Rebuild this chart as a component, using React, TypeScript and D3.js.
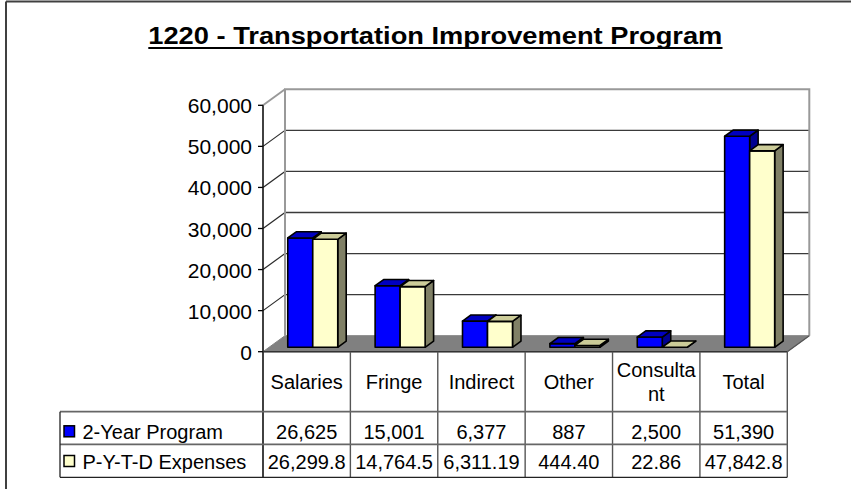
import React from "react";
import * as d3 from "d3";

const categories = ["Salaries", "Fringe", "Indirect", "Other", "Consultant", "Total"];
const categoryLines = [["Salaries"], ["Fringe"], ["Indirect"], ["Other"], ["Consulta", "nt"], ["Total"]];
const seriesNames = ["2-Year Program", "P-Y-T-D Expenses"];
const programValues = [26625, 15001, 6377, 887, 2500, 51390];
const expenseValues = [26299.8, 14764.5, 6311.19, 444.4, 22.86, 47842.8];
const programLabels = ["26,625", "15,001", "6,377", "887", "2,500", "51,390"];
const expenseLabels = ["26,299.8", "14,764.5", "6,311.19", "444.40", "22.86", "47,842.8"];
const yTicks = [0, 10000, 20000, 30000, 40000, 50000, 60000];

const W = 851;
const H = 492;
const FONT = "'Liberation Sans', Arial, sans-serif";

const frontLeft = 263;
const frontRight = 787.3;
const frontBottom = 351.7;
const frontTop = 105.3;
const DX = 22;
const DY = -16;

const seriesStyle = [
  { front: "#0000FF", top: "#0000C0", side: "#000090" },
  { front: "#FFFFCC", top: "#CCCC99", side: "#808066" },
];

export default function App() {
  const y = d3.scaleLinear().domain([0, 60000]).range([frontBottom, frontTop]);
  const x = d3.scaleBand<string>().domain(categories).range([frontLeft, frontRight]).padding(0);
  const bw = x.bandwidth();

  // bar depth placement
  const barDepthStart = 0.275;
  const barDepth = 0.385;
  const bdx = DX * barDepthStart;
  const bdy = DY * barDepthStart;
  const tdx = DX * barDepth;
  const tdy = DY * barDepth;
  const barW = 25;
  const gap = (bw - 2 * barW) / 2;

  const backLeft = frontLeft + DX;
  const backRight = frontRight + DX;

  const rowTop = frontBottom;
  const row1 = 411.7;
  const row2 = 444.3;
  const row3 = 477.3;
  const legendLeft = 60;

  const bars: JSX.Element[] = [];
  categories.forEach((c, i) => {
    [programValues[i], expenseValues[i]].forEach((v, s) => {
      const st = seriesStyle[s];
      const x0 = (x(c) as number) + bdx + gap + s * barW;
      const x1 = x0 + barW;
      const yb = y(0) + bdy;
      const yt = y(v) + bdy;
      const front = `M${x0},${yb}L${x1},${yb}L${x1},${yt}L${x0},${yt}Z`;
      const top = `M${x0},${yt}L${x1},${yt}L${x1 + tdx},${yt + tdy}L${x0 + tdx},${yt + tdy}Z`;
      const side = `M${x1},${yb}L${x1 + tdx},${yb + tdy}L${x1 + tdx},${yt + tdy}L${x1},${yt}Z`;
      bars.push(
        <g key={`${c}-${s}`} stroke="#000" strokeWidth={1.6} strokeLinejoin="round">
          <path d={side} fill={st.side} />
          <path d={front} fill={st.front} />
          <path d={top} fill={st.top} />
        </g>
      );
    });
  });

  return (
    <svg
      width={W}
      height={H}
      style={{ position: "absolute", left: 0, top: 0, background: "#fff" }}
      fontFamily={FONT}
    >
      <rect x={0} y={0} width={W} height={H} fill="#fff" />
      {/* outer frame */}
      <line x1={6} y1={1.5} x2={W} y2={1.5} stroke="#404040" strokeWidth={2} />
      <line x1={6} y1={1.5} x2={6} y2={489} stroke="#404040" strokeWidth={2} />

      {/* title */}
      <text
        x={148.3}
        y={44}
        fontSize={24}
        fontWeight="bold"
        textLength={574}
        lengthAdjust="spacingAndGlyphs"
        fill="#000"
      >
        1220 - Transportation Improvement Program
      </text>
      <line x1={148.3} x2={722.5} y1={48} y2={48} stroke="#000" strokeWidth={2.2} />

      {/* floor */}
      <path
        d={`M${frontLeft},${frontBottom}L${frontRight},${frontBottom}L${backRight},${frontBottom + DY}L${backLeft},${frontBottom + DY}Z`}
        fill="#808080"
        stroke="#808080"
        strokeWidth={1}
      />

      {/* gridlines on back wall and left wall */}
      {yTicks.map((t) => (
        <g key={t}>
          {t > 0 && t < 60000 && (
            <line x1={backLeft} x2={backRight} y1={y(t) + DY} y2={y(t) + DY} stroke="#3a3a3a" strokeWidth={1.3} />
          )}
          {t > 0 && (
            <line
              x1={frontLeft}
              y1={y(t)}
              x2={backLeft}
              y2={y(t) + DY}
              stroke={t === 60000 ? "#999" : "#2a2a2a"}
              strokeWidth={t === 60000 ? 2 : 1.2}
            />
          )}
          <line x1={frontLeft - 5} x2={frontLeft} y1={y(t)} y2={y(t)} stroke="#000" strokeWidth={1.3} />
          <text x={252} y={y(t) + 8} fontSize={21} textAnchor="end" fill="#000">
            {d3.format(",")(t)}
          </text>
        </g>
      ))}

      {/* back wall borders */}
      <path
        d={`M${backLeft},${frontBottom + DY}L${backLeft},${y(60000) + DY}L${backRight},${y(60000) + DY}L${backRight},${frontBottom + DY}`}
        fill="none"
        stroke="#999"
        strokeWidth={2}
      />

      {/* bars */}
      {bars}

      {/* front axis */}
      <line x1={frontLeft} x2={frontLeft} y1={frontTop} y2={row3} stroke="#111" strokeWidth={1.6} />
      <line x1={frontLeft} x2={frontRight} y1={frontBottom} y2={frontBottom} stroke="#333" strokeWidth={1.6} />
      <line x1={frontRight} y1={frontBottom} x2={backRight} y2={frontBottom + DY} stroke="#555" strokeWidth={1.3} />

      {/* data table */}
      {categories.map((c, i) => (
        <line
          key={`v${c}`}
          x1={(x(c) as number) + bw}
          x2={(x(c) as number) + bw}
          y1={rowTop}
          y2={row3}
          stroke="#555"
          strokeWidth={1.4}
        />
      ))}
      <line x1={legendLeft} x2={frontRight} y1={row1} y2={row1} stroke="#666" strokeWidth={1.8} />
      <line x1={legendLeft} x2={frontRight} y1={row2} y2={row2} stroke="#666" strokeWidth={1.8} />
      <line x1={legendLeft} x2={frontRight} y1={row3} y2={row3} stroke="#222" strokeWidth={1.3} />
      <line x1={legendLeft} x2={legendLeft} y1={row1} y2={row3} stroke="#222" strokeWidth={1.3} />

      {categories.map((c, i) => {
        const cx = (x(c) as number) + bw / 2;
        const lines = categoryLines[i];
        return (
          <g key={`t${c}`} fontSize={20} textAnchor="middle" fill="#000">
            {lines.length === 1 ? (
              <text x={cx} y={389}>{lines[0]}</text>
            ) : (
              lines.map((l, k) => (
                <text key={k} x={cx} y={376.7 + k * 24}>
                  {l}
                </text>
              ))
            )}
            <text x={cx} y={439.3}>{programLabels[i]}</text>
            <text x={cx} y={469}>{expenseLabels[i]}</text>
          </g>
        );
      })}

      {/* legend keys */}
      {seriesNames.map((n, s) => {
        const yb = s === 0 ? 439.3 : 469;
        return (
          <g key={n}>
            <rect x={64} y={yb - 13.5} width={10.5} height={11} fill={seriesStyle[s].front} stroke="#000" strokeWidth={1.5} />
            <text x={82.5} y={yb} fontSize={20} fill="#000">
              {n}
            </text>
          </g>
        );
      })}
    </svg>
  );
}
